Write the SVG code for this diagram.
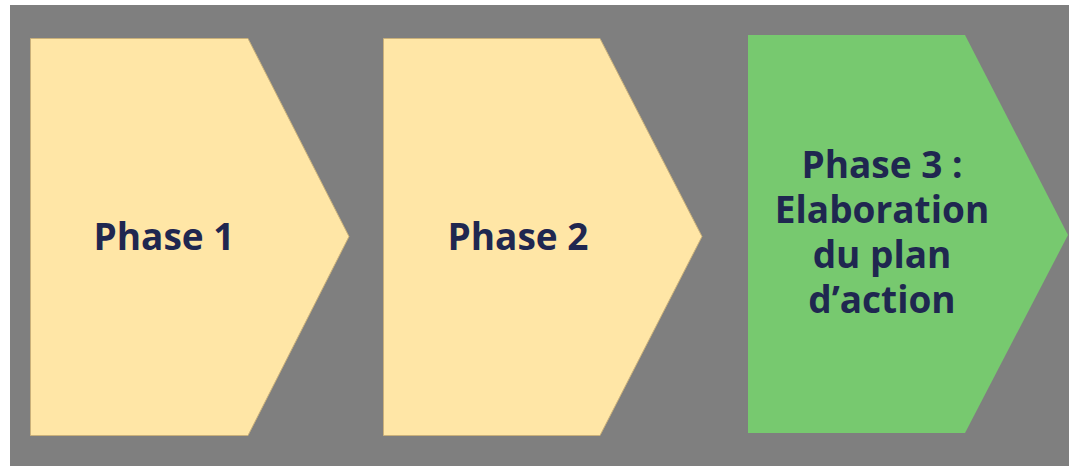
<svg xmlns="http://www.w3.org/2000/svg" width="1069" height="466" viewBox="0 0 1069 466">
<style>
.y{fill:#FFE6A6;stroke:#C9B07A;stroke-width:1}
.g{fill:#77C96F}
.t{font-family:"Open Sans","Noto Sans",sans-serif;font-weight:bold;font-size:37px;fill:#1F2750;text-anchor:middle}
</style>
<rect x="0" y="0" width="1069" height="466" fill="#FFFFFF"/>
<rect x="10" y="5" width="1059" height="461" fill="#7F7F7F"/>
<g id="phase1">
<polygon class="y" points="30.5,38.5 248,38.5 349,236.5 248,435.5 30.5,435.5"/>
<text class="t" x="164" y="250">Phase 1</text>
</g>
<g id="phase2">
<polygon class="y" points="383.5,38.5 600,38.5 702,236.5 600,435.5 383.5,435.5"/>
<text class="t" x="518" y="250">Phase 2</text>
</g>
<g id="phase3">
<polygon class="g" points="748,35 965,35 1068,235 965,433 748,433"/>
<text class="t"><tspan x="882" y="178">Phase 3 :</tspan><tspan x="882" y="223">Elaboration</tspan><tspan x="882" y="268">du plan</tspan><tspan x="882" y="313">d’action</tspan></text>
</g>
<g id="connectors"/>
</svg>
